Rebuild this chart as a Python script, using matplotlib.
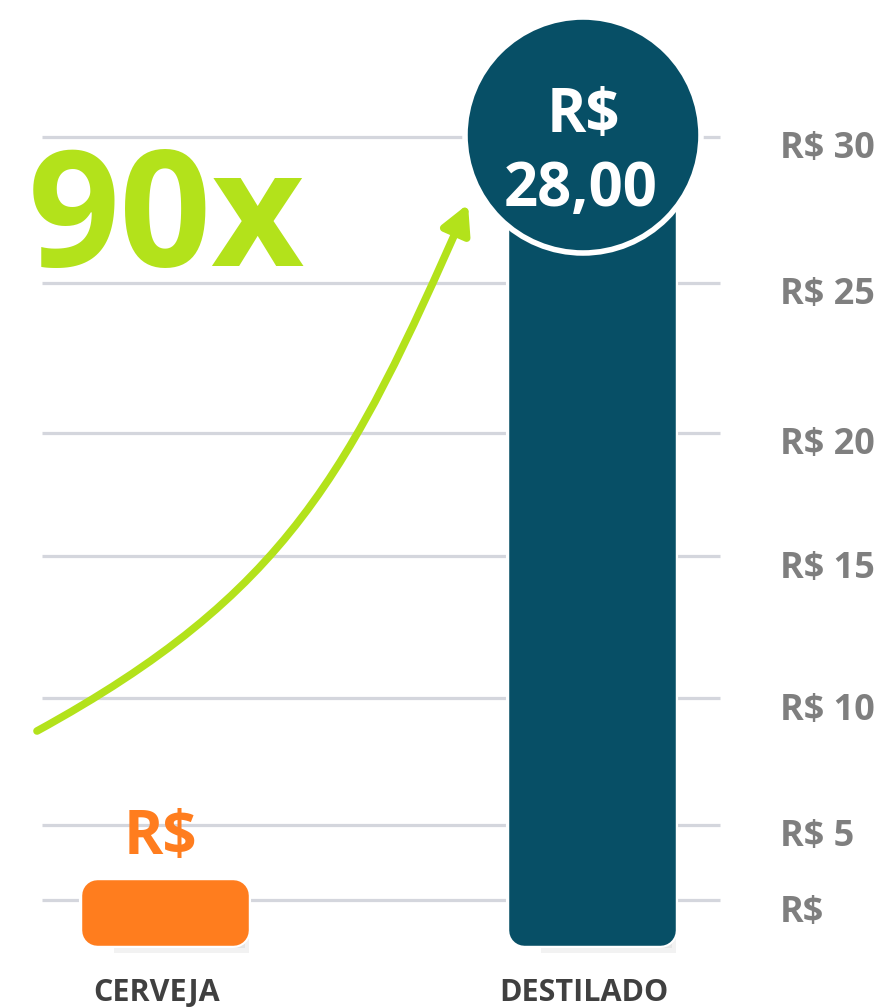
import numpy as np
import matplotlib
matplotlib.use("Agg")
import matplotlib.pyplot as plt
from matplotlib.patches import Circle, FancyArrowPatch
from matplotlib.path import Path
from matplotlib.transforms import Affine2D, IdentityTransform
import matplotlib.patheffects as pe

# ---- data ----
categories = ["CERVEJA", "DESTILADO"]
values = [0.31, 28.0]
value_labels = ["R$", "R$\n28,00"]
tick_values = [0, 5, 10, 15, 20, 25, 30]
tick_labels = ["R$", "R$ 5", "R$ 10", "R$ 15", "R$ 20", "R$ 25", "R$ 30"]
multiplier_label = "90x"

# ---- style ----
W, H = 883, 1007
C_ORANGE = "#FF7D1E"
C_NAVY = "#074F66"
C_LIME = "#B3E21B"
C_GRID = "#D4D6DD"
C_TICK = "#7F7F7F"
C_CAT = "#404040"
FONT = "Open Sans"

plt.rcParams["font.family"] = [FONT, "DejaVu Sans"]

fig = plt.figure(figsize=(W / 100, H / 100), dpi=100)
ax = fig.add_axes([0, 0, 1, 1])
ax.axis("off")

# uneven gridline spacing of the original, as a piecewise scale
v_knots = np.array([-10, 0, 5, 10, 15, 20, 25, 30, 40], dtype=float)
h_knots = np.array([-43, 107, 182, 309, 451, 574, 724, 870, 1162], dtype=float)
ax.set_yscale("function",
              functions=(lambda v: np.interp(v, v_knots, h_knots),
                         lambda h: np.interp(h, h_knots, v_knots)))
ax.set_ylim(-107 / 15, 30 + 137 / 29.2)
ax.set_xlim(-165 / 427, (W - 165) / 427)

# pixel coords with origin at top-left (for decorations only)
px = Affine2D().scale(1, -1).translate(0, H) + IdentityTransform()

# gridlines + tick labels
ax.hlines(tick_values, -0.288, 1.30, color=C_GRID, lw=2.3, zorder=1)
for v, lab in zip(tick_values, tick_labels):
    ax.annotate(lab, (1.44, v), xytext=(0, -9), textcoords="offset points",
                ha="left", va="center", fontsize=26, fontweight="bold",
                color=C_TICK)

# bars (rounded corners via thick round-joined edges)
x = np.arange(len(categories))
floor = -2.0
bar_w = 0.317
colors = [C_ORANGE, C_NAVY]
heights = [v - floor for v in values]
shadow = [pe.SimplePatchShadow(offset=(o, -o * 1.4), shadow_rgbFace="#000000",
                               alpha=0.05) for o in (3, 6, 9, 12)]
ax.bar(x, heights, bottom=floor, width=bar_w, color="white", edgecolor="white",
       linewidth=26, joinstyle="round", zorder=2,
       path_effects=shadow + [pe.Normal()])
ax.bar(x, heights, bottom=floor, width=bar_w, color=colors, edgecolor=colors,
       linewidth=22, joinstyle="round", zorder=3)

# category labels
for xi, cat in zip(x, categories):
    ax.text(xi - 0.02, 0.006, cat, transform=ax.get_xaxis_transform(),
            ha="center", va="baseline", fontsize=22, fontweight="bold", color=C_CAT)

# beer value label
ax.text(160, 838, value_labels[0], transform=px, ha="center", va="center",
        fontsize=43, fontweight="bold", color=C_ORANGE, zorder=5)

# spirits value badge
badge = Circle((583, 135), 118, transform=px, facecolor=C_NAVY,
               edgecolor="white", linewidth=4, zorder=4)
ax.add_artist(badge)
ax.text(583, 116, value_labels[1].split("\n")[0], transform=px, ha="center",
        va="center", fontsize=43, fontweight="bold", color="white", zorder=5)
ax.text(581, 190, value_labels[1].split("\n")[1], transform=px, ha="center",
        va="center", fontsize=43, fontweight="bold", color="white", zorder=5)

# growth arrow
curve = Path([(37, 731), (287, 594), (350, 472), (468, 204)],
             [Path.MOVETO, Path.CURVE4, Path.CURVE4, Path.CURVE4])
arrow = FancyArrowPatch(path=curve, transform=px,
                        arrowstyle="-|>,head_length=17,head_width=9",
                        color=C_LIME, lw=5.5, mutation_scale=1, zorder=3)
ax.add_artist(arrow)

# multiplier
ax.text(28, 224, multiplier_label, transform=px, ha="left", va="center",
        fontsize=116, fontweight="bold", color=C_LIME, zorder=5)

fig.savefig("out.png", dpi=100)
